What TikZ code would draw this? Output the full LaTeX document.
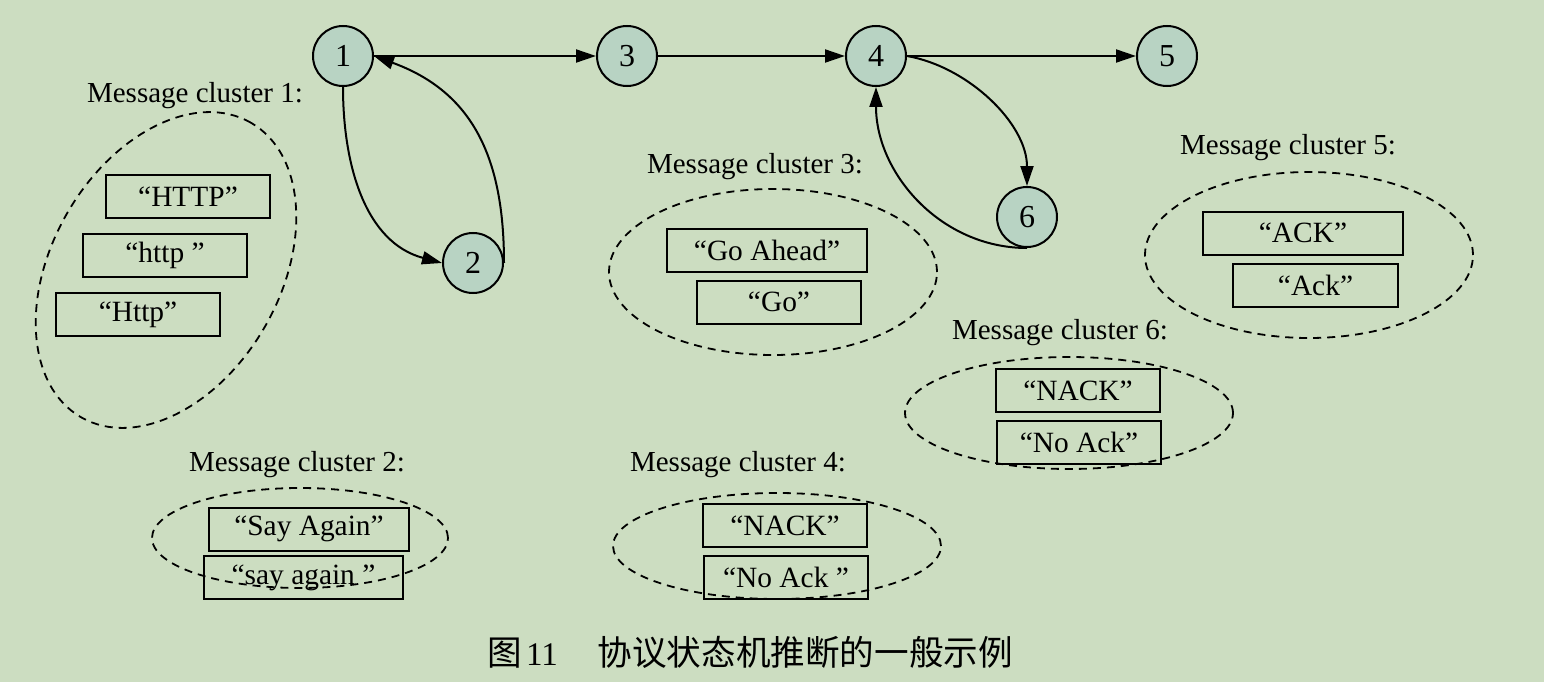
\documentclass[tikz,border=0pt]{standalone}
\usepackage{fontspec}
\setmainfont{Liberation Serif}
\newfontfamily\cjk{Noto Sans CJK SC}
\usetikzlibrary{arrows.meta,shapes.geometric}
\definecolor{bg}{HTML}{CCDDC1}
\definecolor{st}{HTML}{B8D3C3}
\begin{document}
\begin{tikzpicture}[x=0.5pt,y=0.5pt,
  state/.style={circle,draw,line width=1pt,fill=st,minimum size=30pt,inner sep=0pt,font=\fontsize{16}{18}\selectfont},
  msg/.style={draw,line width=1pt,minimum height=21.5pt,inner sep=0pt,font=\fontsize{14.7}{17}\selectfont},
  lab/.style={inner sep=0pt,font=\fontsize{14.5}{17}\selectfont},
  clus/.style={ellipse,draw,dash pattern=on 4pt off 3pt,line width=0.9pt,inner sep=0pt},
  edge/.style={line width=1pt,-{Triangle[length=10pt,width=6.5pt]}}]
\useasboundingbox (0,0) rectangle (1544,682);
\fill[bg] (0,0) rectangle (1544,682);

% states
\node[state] (s1) at (343,626) {1};
\node[state] (s2) at (473,419) {2};
\node[state] (s3) at (627,626) {3};
\node[state] (s4) at (876,626) {4};
\node[state] (s5) at (1167,626) {5};
\node[state] (s6) at (1027,465) {6};

% transitions
\draw[edge] (s1.east) -- (s3.west);
\draw[edge] (s3.east) -- (s4.west);
\draw[edge] (s4.east) -- (s5.west);
\draw[edge] (s1.south) to[out=-90,in=165] (s2.west);
\draw[edge] (s2.east) to[out=90,in=-20,looseness=1.1] (s1.east);
\draw[edge] (s4.east) to[out=-10,in=90,looseness=0.9] (s6.north);
\draw[edge] (s6.south) to[out=180,in=-90] (s4.south);

% cluster 1
\node[lab] (l1) at (195,586) {Message cluster 1:};
\node[clus,minimum width=170pt,minimum height=114pt,rotate=60] (e1) at (166,412) {};
\node[msg,minimum width=82pt] (b11) at (188,485.5) {“HTTP”};
\node[msg,minimum width=82pt] (b12) at (165,427) {“http ”};
\node[msg,minimum width=82pt] (b13) at (138,367.5) {“Http”};

% cluster 2
\node[lab] (l2) at (297,217) {Message cluster 2:};
\node[clus,minimum width=148pt,minimum height=50pt] (e2) at (300,144) {};
\node[msg,minimum width=100pt] (b21) at (309,153) {“Say Again”};
\node[msg,minimum width=99.5pt] (b22) at (303.5,104.5) {“say again ”};

% cluster 3
\node[lab] (l3) at (755,515) {Message cluster 3:};
\node[clus,minimum width=164pt,minimum height=83pt] (e3) at (773,410) {};
\node[msg,minimum width=100pt] (b31) at (767,432) {“Go Ahead”};
\node[msg,minimum width=82pt] (b32) at (779,380) {“Go”};

% cluster 4
\node[lab] (l4) at (738,217) {Message cluster 4:};
\node[clus,minimum width=164pt,minimum height=53pt] (e4) at (777,136) {};
\node[msg,minimum width=82pt] (b41) at (785,156.5) {“NACK”};
\node[msg,minimum width=82pt] (b42) at (786,104.5) {“No Ack ”};

% cluster 5
\node[lab] (l5) at (1288,534) {Message cluster 5:};
\node[clus,minimum width=164pt,minimum height=83pt] (e5) at (1309,427) {};
\node[msg,minimum width=100pt] (b51) at (1303,449) {“ACK”};
\node[msg,minimum width=82.5pt] (b52) at (1315.5,397) {“Ack”};

% cluster 6
\node[lab] (l6) at (1060,349) {Message cluster 6:};
\node[clus,minimum width=164pt,minimum height=56pt] (e6) at (1069,269) {};
\node[msg,minimum width=82pt] (b61) at (1078,291.5) {“NACK”};
\node[msg,minimum width=82pt] (b62) at (1079,239.5) {“No Ack”};

% caption
\node[anchor=west,inner sep=0pt] (cap) at (487,30) {\fontsize{17.3}{20}\selectfont{\cjk 图}\hspace{2pt}{\fontsize{16.5}{20}\selectfont 11}\hspace{20pt}{\cjk 协议状态机推断的一般示例}};
\end{tikzpicture}
\end{document}
